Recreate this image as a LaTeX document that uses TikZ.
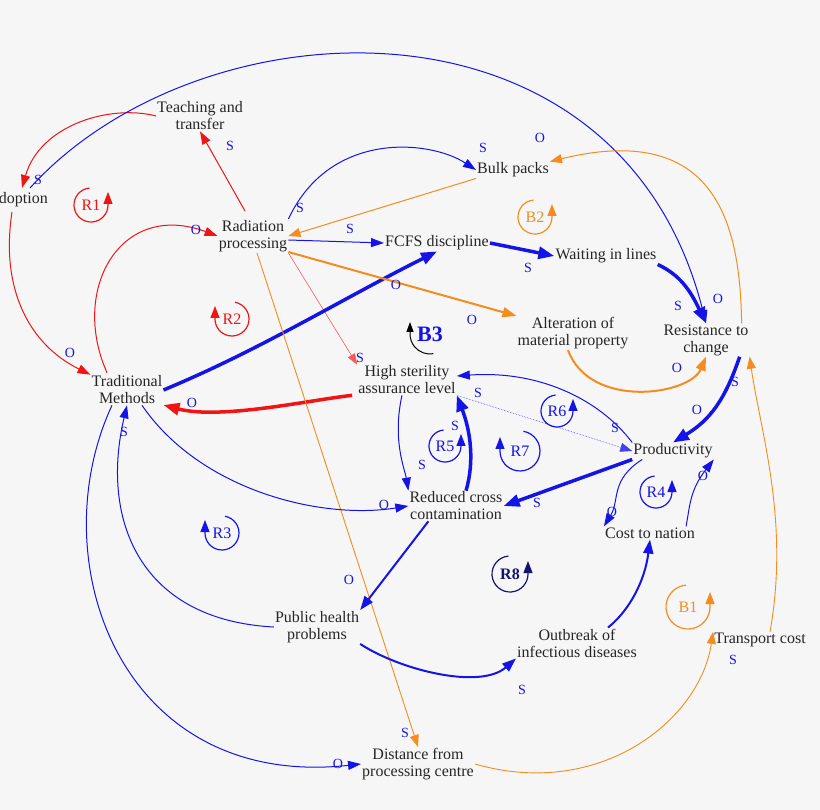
\documentclass[tikz,border=0pt]{standalone}
\usepackage{fontspec}
\setmainfont{Liberation Serif}
\usetikzlibrary{arrows.meta}
\definecolor{bg}{RGB}{246,246,247}
\definecolor{cb}{RGB}{20,20,230}
\definecolor{cr}{RGB}{240,20,20}
\definecolor{co}{RGB}{245,140,30}
\definecolor{cn}{RGB}{20,20,110}
\begin{document}
\begin{tikzpicture}[x=1pt,y=-1pt,
  v/.style={font=\fontsize{16}{17}\selectfont,align=center,text=black!85,inner sep=1pt},
  lab/.style={font=\fontsize{14}{14}\selectfont,text=cb},
  a/.style={-{Triangle[length=13pt,width=9pt]},line width=1pt},
  ak/.style={-{Triangle[length=16pt,width=12pt]},line width=3.5pt},
  am/.style={-{Triangle[length=14pt,width=10pt]},line width=2pt},
  loopcw/.style={line width=1.2pt,-{Triangle[length=12pt,width=9pt]}},
  ll/.style={font=\fontsize{16}{16}\selectfont}]
\fill[bg] (0,0) rectangle (820,810);
\useasboundingbox (0,0) rectangle (820,810);
\clip (0,0) rectangle (820,810);
% variables
\node[v,anchor=east] (ad) at (49,200) {Adoption};
\node[v] (te) at (200,116) {Teaching and\\transfer};
\node[v] (ra) at (253,236) {Radiation\\processing};
\node[v] (fc) at (437,243) {FCFS discipline};
\node[v] (bu) at (513,170) {Bulk packs};
\node[v] (wa) at (606,256) {Waiting in lines};
\node[v] (al) at (573,333) {Alteration of\\material property};
\node[v] (re) at (706,340) {Resistance to\\change};
\node[v] (tr) at (127,390) {Traditional\\Methods};
\node[v] (hi) at (407,380) {High sterility\\assurance level};
\node[v] (pr) at (673,451) {Productivity};
\node[v] (rc) at (456,506) {Reduced cross\\contamination};
\node[v] (cn) at (650,533) {Cost to nation};
\node[v] (ph) at (317,627) {Public health\\problems};
\node[v] (ou) at (577,643) {Outbreak of\\infectious diseases};
\node[v] (tc) at (760,640) {Transport cost};
\node[v] (di) at (418,764) {Distance from\\processing centre};
% coordinates
\coordinate (adT) at (22,188); \coordinate (adB) at (12,212);
% red links
\draw[a,cr] (adB) .. controls (0,290) and (30,345) .. (tr.north west);
\draw[a,cr] (te.west) .. controls (110,104) and (40,125) .. (adT);
\draw[a,cr] (ra.north) ++(-8,-8) coordinate (raN) (raN) -- (te.south);
\draw[a,cr] (tr.north) ++(-20,-2) coordinate (trN) (trN) .. controls (70,290) and (120,200) .. (ra.west);
\draw[line width=0.6pt,-{Triangle[length=11pt,width=8pt]},cr!70] (ra.south east) -- (hi.north west);
\draw[ak,cr] (hi.south west) ++(-5,0) coordinate (hiSW) (hiSW) .. controls (310,400) and (220,420) .. (tr.east |- 0,405);
% blue big arc
\draw[a,cb] (adT) ++(8,0) coordinate (adS) (adS) .. controls (200,0) and (620,-20) .. (re.north);
\draw[a,cb] (ra.north east) .. controls (330,130) and (430,140) .. (bu.west);
\draw[a,cb] (ra.east |- 0,240) -- (fc.west);
\draw[ak,cb] (fc.east) -- (wa.west);
\draw[ak,cb] (wa.south east) .. controls (680,275) and (690,290) .. (re.north);
\draw[ak,cb] (tr.east) .. controls (260,350) and (340,300) .. (fc.south);
\draw[ak,cb] (re.south east) ++(-10,0) coordinate (reS) (reS) .. controls (725,400) and (710,420) .. (pr.north);
% orange
\draw[line width=1pt,-{Triangle[length=12pt,width=9pt]},co] (bu.south west) -- (ra.east);
\draw[line width=1pt,-{Triangle[length=12pt,width=9pt]},co] (re.north east) ++(-8,0) coordinate (reNE) (reNE) .. controls (740,230) and (720,120) .. (bu.north east);
\draw[am,co] (ra.east |- 0,252) -- (al.north west);
\draw[am,co] (al.south) ++(-5,0) coordinate (alS) (alS) .. controls (590,410) and (690,395) .. (re.south);
\draw[line width=0.9pt,-{Triangle[length=12pt,width=9pt]},co] (ra.south) ++(4,0) coordinate (raS) (raS) -- (di.north);
\draw[line width=0.9pt,-{Triangle[length=12pt,width=9pt]},co] (di.east) .. controls (600,800) and (700,720) .. (tc.north west);
\draw[line width=0.9pt,-{Triangle[length=12pt,width=9pt]},co] (tc.north) ++(10,0) coordinate (tcN) (tcN) .. controls (790,520) and (760,430) .. (re.south east);
% blue middle
\draw[a,cb] (pr.north west) .. controls (600,400) and (540,370) .. (hi.east |- 0,376);
\draw[line width=0.6pt,densely dotted,-{Triangle[length=12pt,width=9pt]},cb!80] (hi.south east) -- (pr.west);
\draw[a,cb] (hi.south) ++(-5,0) coordinate (hiS) (hiS) .. controls (392,440) and (405,470) .. (rc.north west);
\draw[ak,cb] (rc.north) ++(10,0) coordinate (rcN) (rcN) .. controls (475,460) and (470,430) .. (hi.south east);
\draw[ak,cb] (pr.south west) -- (rc.east);
\draw[a,cb] (pr.south west) ++(10,0) coordinate (prSW) (prSW) .. controls (610,480) and (620,500) .. (cn.north west);
\draw[a,cb] (cn.north east) ++(-10,0) coordinate (cnNE) (cnNE) .. controls (690,505) and (690,490) .. (pr.south east);
\draw[a,cb] (tr.south) ++(15,0) coordinate (trS) (trS) .. controls (200,490) and (320,520) .. (rc.west);
\draw[am,cb] (rc.south west) ++(20,0) coordinate (rcSW) (rcSW) -- (ph.north east);
\draw[a,cb] (ph.west) .. controls (140,620) and (100,520) .. (tr.south);
\draw[a,cb] (trS) ++(-30,0) coordinate (trS2) (trS2) .. controls (40,560) and (120,790) .. (di.west);
\draw[am,cb] (ph.south east) .. controls (400,670) and (480,690) .. (ou.south west);
\draw[am,cb] (ou.north east) ++(-30,0) coordinate (ouN) (ouN) .. controls (630,610) and (645,580) .. (cn.south);
% polarity labels
\node[lab] at (38,180) {S};
\node[lab] at (70,353) {O};
\node[lab] at (230,146) {S};
\node[lab] at (196,230) {O};
\node[lab] at (483,148) {S};
\node[lab] at (300,208) {S};
\node[lab] at (540,138) {O};
\node[lab] at (350,229) {S};
\node[lab] at (528,268) {S};
\node[lab] at (396,285) {O};
\node[lab] at (472,320) {O};
\node[lab] at (360,358) {S};
\node[lab] at (405,733) {S};
\node[lab] at (677,368) {O};
\node[lab] at (735,382) {S};
\node[lab] at (697,410) {O};
\node[lab] at (678,306) {S};
\node[lab] at (718,299) {O};
\node[lab] at (192,403) {O};
\node[lab] at (478,393) {S};
\node[lab] at (615,428) {S};
\node[lab] at (455,426) {S};
\node[lab] at (422,465) {S};
\node[lab] at (537,503) {S};
\node[lab] at (612,512) {O};
\node[lab] at (703,476) {O};
\node[lab] at (384,505) {O};
\node[lab] at (349,580) {O};
\node[lab] at (124,432) {S};
\node[lab] at (338,764) {O};
\node[lab] at (522,690) {S};
\node[lab] at (733,660) {S};
% loops: ccw (arrow at right) and cw (arrow at left)
\node[ll,text=cr] (l1) at (91,205) {R1};
\draw[cr,loopcw] (l1) ++(-95:17) arc (-95:-360:17) -- ++(0,-13);
\node[ll,text=cr] (l2) at (232,319) {R2};
\draw[cr,loopcw] (l2) ++(-80:17) arc (-80:180:17) -- ++(0,-13);
\node[font=\fontsize{22}{22}\selectfont\bfseries,text=cb] (l3) at (430,334) {B3};
\draw[line width=1pt,-{Triangle[length=10pt,width=7pt]}] (l3) ++(80:20) arc (80:180:20) -- ++(0,-12);
\node[ll,text=co] (l4) at (535,217) {B2};
\draw[co,loopcw] (l4) ++(-95:17) arc (-95:-360:17) -- ++(0,-13);
\node[ll,text=cb] (l5) at (557,411) {R6};
\draw[cb,loopcw] (l5) ++(-95:16) arc (-95:-360:16) -- ++(0,-12);
\node[ll,text=cb] (l6) at (445,446) {R5};
\draw[cb,loopcw] (l6) ++(-95:16) arc (-95:-360:16) -- ++(0,-12);
\node[ll,text=cb] (l7) at (520,451) {R7};
\draw[cb,loopcw] (l7) ++(-80:20) arc (-80:180:20) -- ++(0,-14);
\node[ll,text=cb] (l8) at (656,492) {R4};
\draw[cb,loopcw] (l8) ++(-95:16) arc (-95:-360:16) -- ++(0,-12);
\node[ll,text=cb] (l9) at (222,533) {R3};
\draw[cb,loopcw] (l9) ++(-80:17) arc (-80:180:17) -- ++(0,-13);
\node[ll,text=cn,font=\fontsize{16}{16}\selectfont\bfseries] (l10) at (510,574) {R8};
\draw[cn,loopcw] (l10) ++(-95:18) arc (-95:-360:18) -- ++(0,-13);
\node[ll,text=co] (l11) at (688,607) {B1};
\draw[co,loopcw] (l11) ++(-95:22) arc (-95:-360:22) -- ++(0,-15);
\end{tikzpicture}
\end{document}
